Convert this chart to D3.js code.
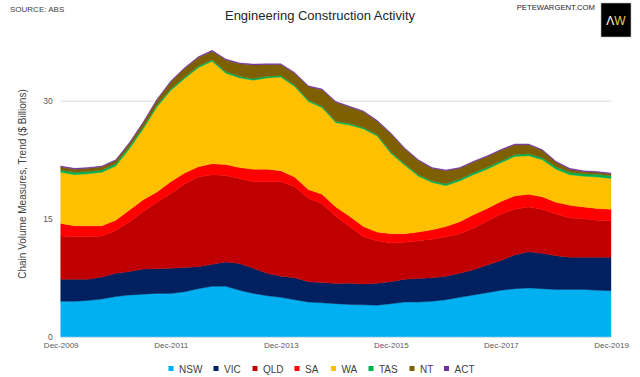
<!DOCTYPE html>
<html>
<head>
<meta charset="utf-8">
<script src="https://cdn.jsdelivr.net/npm/d3@7"></script>
<style>
  body { margin: 0; background: #fff; }
  svg { display: block; font-family: "Liberation Sans", Arial, sans-serif; }
</style>
</head>
<body>
<div id="chart"></div>
<script>
// quarterly categories, Dec-2009 .. Dec-2019
const quarters = [
  "Dec-2009","Mar-2010","Jun-2010","Sep-2010","Dec-2010","Mar-2011","Jun-2011","Sep-2011",
  "Dec-2011","Mar-2012","Jun-2012","Sep-2012","Dec-2012","Mar-2013","Jun-2013","Sep-2013",
  "Dec-2013","Mar-2014","Jun-2014","Sep-2014","Dec-2014","Mar-2015","Jun-2015","Sep-2015",
  "Dec-2015","Mar-2016","Jun-2016","Sep-2016","Dec-2016","Mar-2017","Jun-2017","Sep-2017",
  "Dec-2017","Mar-2018","Jun-2018","Sep-2018","Dec-2018","Mar-2019","Jun-2019","Sep-2019",
  "Dec-2019"
];
const xTickLabels = ["Dec-2009","Dec-2011","Dec-2013","Dec-2015","Dec-2017","Dec-2019"];
const yTicks = [0, 15, 30];

const states = ["NSW","VIC","QLD","SA","WA","TAS","NT","ACT"];
const colors = ["#00B0F0","#002060","#C00000","#FF0000","#FFC000","#00B050","#7F6000","#7030A0"];

// $ billions per quarter
const nsw = [4.5,4.5,4.6,4.8,5.1,5.3,5.4,5.5,5.5,5.7,6.1,6.4,6.4,5.9,5.5,5.2,5.0,4.7,4.4,4.3,
             4.2,4.1,4.05,4.0,4.2,4.4,4.4,4.5,4.7,5.0,5.3,5.6,5.9,6.1,6.2,6.1,6.0,6.0,6.0,5.9,5.85];
const vic = [2.8,2.8,2.7,2.8,2.95,3.0,3.2,3.15,3.2,3.1,2.8,2.8,3.1,3.4,3.2,2.85,2.7,2.8,2.6,2.6,
             2.55,2.7,2.65,2.8,2.8,2.9,3.0,3.0,3.0,3.05,3.2,3.5,3.8,4.3,4.6,4.5,4.3,4.1,4.1,4.2,4.25];
const qld = [5.5,5.4,5.4,5.2,5.45,6.3,7.3,8.45,9.5,10.6,11.4,11.4,11.0,10.8,11.0,11.65,12.0,11.6,10.6,10.0,
             8.55,7.2,6.0,5.4,4.9,4.7,4.8,4.9,5.0,5.05,5.3,5.6,5.9,5.8,5.7,5.6,5.3,5.0,4.9,4.7,4.6];
const sa  = [1.6,1.4,1.4,1.3,1.3,1.5,1.5,1.3,1.5,1.4,1.3,1.4,1.4,1.4,1.6,1.6,1.4,1.2,1.1,1.2,
             1.2,1.3,1.3,1.1,1.2,1.1,1.1,1.2,1.3,1.5,1.7,1.6,1.6,1.7,1.6,1.6,1.5,1.6,1.5,1.5,1.5];
const wa  = [6.5,6.5,6.6,6.8,6.9,7.8,9.0,10.8,11.6,12.0,12.6,13.0,11.6,11.4,11.3,11.6,11.9,11.5,11.2,11.0,
             10.7,11.6,12.4,12.2,10.2,8.7,7.1,6.0,5.2,5.2,5.1,5.0,4.9,5.0,4.9,4.7,4.2,3.9,3.9,4.0,3.9];
const tas = [0.3,0.3,0.3,0.3,0.3,0.3,0.25,0.25,0.2,0.2,0.2,0.2,0.2,0.2,0.2,0.2,0.2,0.2,0.2,0.2,
             0.2,0.2,0.2,0.2,0.2,0.2,0.2,0.2,0.25,0.25,0.25,0.25,0.25,0.25,0.25,0.25,0.3,0.3,0.3,0.35,0.35];
const nt  = [0.4,0.4,0.4,0.4,0.4,0.4,0.55,0.65,0.9,1.1,1.1,1.1,1.5,1.6,1.75,1.5,1.4,1.5,1.7,2.1,
             2.4,2.1,2.0,1.7,2.3,1.9,1.8,1.6,1.65,1.35,1.35,1.35,1.35,1.25,1.15,0.95,0.6,0.4,0.3,0.25,0.25];
const act = [0.1,0.1,0.1,0.1,0.1,0.1,0.1,0.1,0.1,0.1,0.1,0.1,0.1,0.1,0.1,0.1,0.1,0.1,0.1,0.1,
             0.1,0.1,0.1,0.1,0.1,0.1,0.1,0.1,0.1,0.1,0.1,0.1,0.1,0.1,0.1,0.1,0.1,0.1,0.1,0.1,0.1];

const series = [nsw, vic, qld, sa, wa, tas, nt, act];

// table for d3.stack
const rows = quarters.map((q, i) => {
  const r = { q: q };
  states.forEach((s, k) => r[s] = series[k][i]);
  return r;
});

const width = 640, height = 377;
const left = 60.7, right = 611, y0 = 336.7, y30 = 100.7;

const svg = d3.select("#chart").append("svg")
  .attr("width", width)
  .attr("height", height);

const x = d3.scalePoint().domain(quarters).range([left, right]);
const y = d3.scaleLinear().domain([0, 30]).range([y0, y30]);

// gridlines
svg.append("g")
  .attr("transform", `translate(${left},0)`)
  .call(d3.axisLeft(y).tickValues(yTicks).tickSize(-(right - left)).tickFormat(d3.format("d")))
  .call(g => g.select(".domain").remove())
  .call(g => g.selectAll(".tick line").attr("stroke", "#d9d9d9"))
  .call(g => g.selectAll(".tick text")
    .attr("x", -8).attr("fill", "#595959").attr("font-size", 8.5)
    .attr("font-family", "Liberation Sans, Arial, sans-serif"));

// stacked areas
const stack = d3.stack().keys(states);
const layers = stack(rows);

const area = d3.area()
  .x(d => x(d.data.q))
  .y0(d => y(d[0]))
  .y1(d => y(d[1]));

svg.append("g").selectAll("path")
  .data(layers)
  .enter()
  .append("path")
  .attr("d", area)
  .attr("fill", (d, i) => colors[i])
  .attr("stroke", (d, i) => colors[i])
  .attr("stroke-width", 0.4);

// x axis labels
svg.append("g")
  .attr("transform", `translate(0,${y0})`)
  .call(d3.axisBottom(x).tickValues(xTickLabels).tickSize(0).tickPadding(6))
  .call(g => g.select(".domain").remove())
  .call(g => g.selectAll(".tick text")
    .attr("fill", "#595959").attr("font-size", 8)
    .attr("font-family", "Liberation Sans, Arial, sans-serif"));

// y axis title
svg.append("text")
  .attr("transform", "translate(26,184) rotate(-90)")
  .attr("text-anchor", "middle")
  .attr("font-size", 10)
  .attr("fill", "#404040")
  .text("Chain Volume Measures, Trend ($ Billions)");

// title
svg.append("text")
  .attr("x", 320)
  .attr("y", 20)
  .attr("text-anchor", "middle")
  .attr("font-size", 13)
  .attr("fill", "#262626")
  .text("Engineering Construction Activity");

svg.append("text")
  .attr("x", 10)
  .attr("y", 12)
  .attr("font-size", 8)
  .attr("fill", "#404040")
  .text("SOURCE: ABS");

svg.append("text")
  .attr("x", 595)
  .attr("y", 9.5)
  .attr("text-anchor", "end")
  .attr("font-size", 7.7)
  .attr("fill", "#262626")
  .text("PETEWARGENT.COM");

// logo box
svg.append("rect")
  .attr("x", 601).attr("y", 3).attr("width", 30).attr("height", 34)
  .attr("fill", "#000").attr("stroke", "#bbb").attr("stroke-width", 0.6);
const logo = svg.append("text")
  .attr("x", 616).attr("y", 25)
  .attr("text-anchor", "middle")
  .attr("font-size", 12);
logo.append("tspan").attr("fill", "#fff").text("Λ");
logo.append("tspan").attr("fill", "#e0d24a").text("W");

// legend
const legendX = [171, 216, 255, 297, 333.5, 371, 412, 446.5];
const legend = svg.append("g");
states.forEach((s, i) => {
  legend.append("rect")
    .attr("x", legendX[i] - 2.5).attr("y", 366)
    .attr("width", 5).attr("height", 5)
    .attr("fill", colors[i]);
  legend.append("text")
    .attr("x", legendX[i] + 8).attr("y", 372.5)
    .attr("font-size", 10)
    .attr("fill", "#404040")
    .text(s);
});
</script>
</body>
</html>
